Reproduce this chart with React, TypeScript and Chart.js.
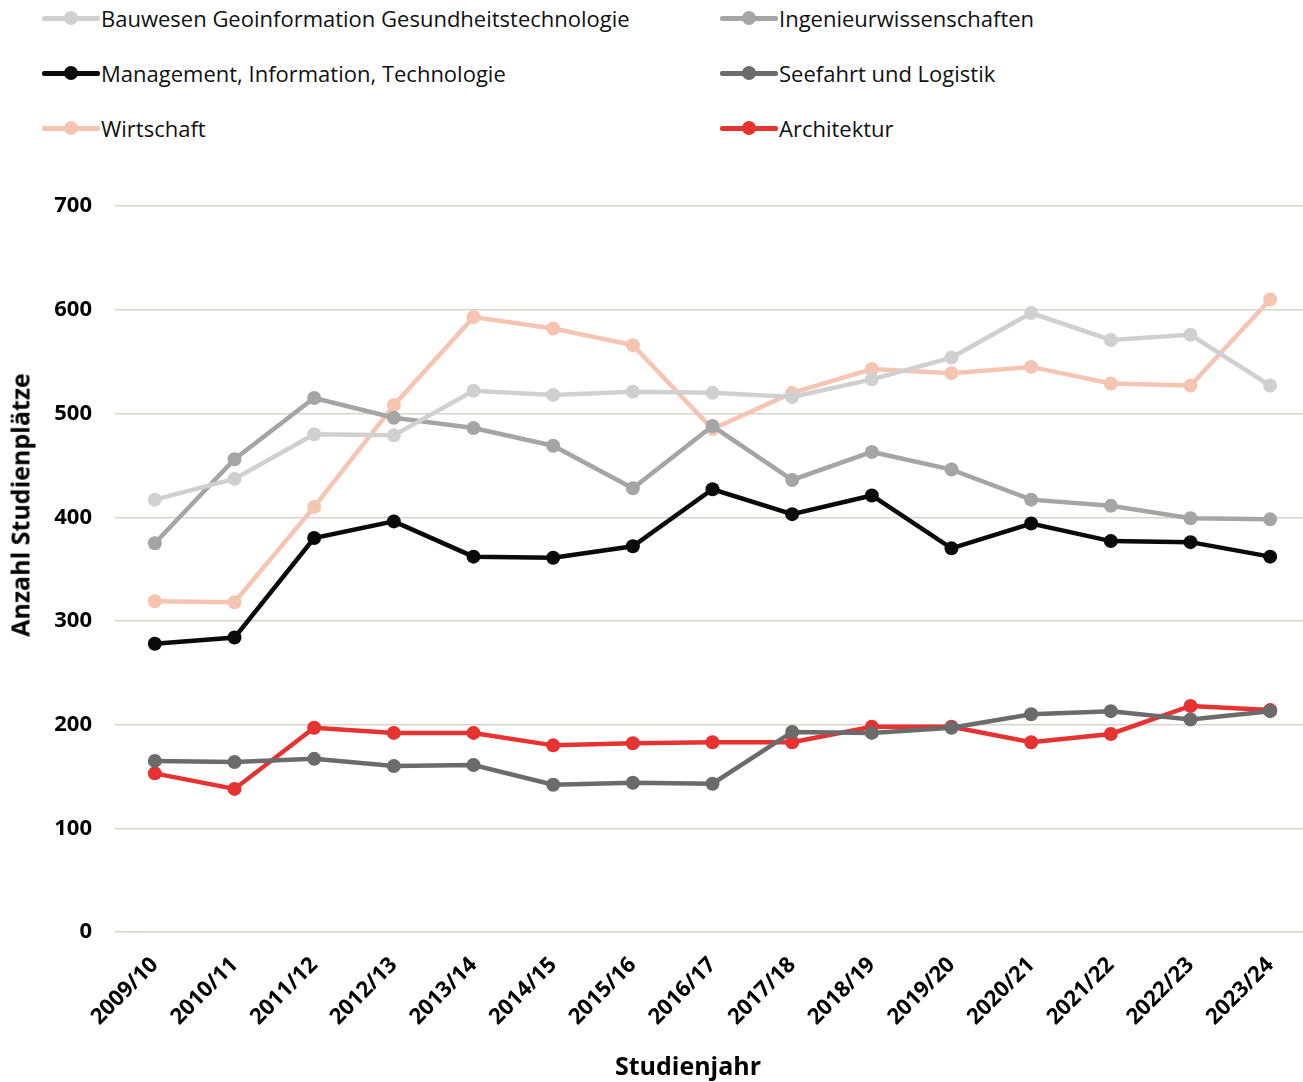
import React, { useEffect, useRef } from "react";
import { Chart, registerables } from "chart.js";

Chart.register(...registerables);

const categories = ["2009/10","2010/11","2011/12","2012/13","2013/14","2014/15","2015/16","2016/17","2017/18","2018/19","2019/20","2020/21","2021/22","2022/23","2023/24"];
const bauwesen = [417, 437, 480, 479, 522, 518, 521, 520, 516, 533, 554, 597, 571, 576, 527];
const ingenieur = [375, 456, 515, 496, 486, 469, 428, 488, 436, 463, 446, 417, 411, 399, 398];
const management = [278, 284, 380, 396, 362, 361, 372, 427, 403, 421, 370, 394, 377, 376, 362];
const wirtschaft = [319, 318, 410, 508, 593, 582, 566, 485, 520, 543, 539, 545, 529, 527, 610];
const seefahrt = [165, 164, 167, 160, 161, 142, 144, 143, 193, 192, 197, 210, 213, 205, 213];
const architektur = [153, 138, 197, 192, 192, 180, 182, 183, 183, 198, 198, 183, 191, 218, 214];
const yTicks = [0, 100, 200, 300, 400, 500, 600, 700];
const xTitle = "Studienjahr";
const yTitle = "Anzahl Studienplätze";

const FONT = "'Open Sans', 'Noto Sans', sans-serif";

const series = [
  { label: "Bauwesen Geoinformation Gesundheitstechnologie", data: bauwesen, color: "#d0d0d0" },
  { label: "Ingenieurwissenschaften", data: ingenieur, color: "#a5a5a5" },
  { label: "Management, Information, Technologie", data: management, color: "#0a0a0a" },
  { label: "Seefahrt und Logistik", data: seefahrt, color: "#6b6b6b" },
  { label: "Wirtschaft", data: wirtschaft, color: "#f5c5b2" },
  { label: "Architektur", data: architektur, color: "#e63331" },
];

const legendLayout = [
  { idx: 0, left: 42, top: 18 },
  { idx: 1, left: 720, top: 18 },
  { idx: 2, left: 42, top: 73 },
  { idx: 3, left: 720, top: 73 },
  { idx: 4, left: 42, top: 128 },
  { idx: 5, left: 720, top: 128 },
];

export default function App() {
  const ref = useRef<HTMLCanvasElement>(null);
  useEffect(() => {
    if (!ref.current) return;
    const chart = new Chart(ref.current, {
      type: "line",
      data: {
        labels: categories,
        datasets: series.map((s) => ({
          label: s.label,
          data: s.data,
          borderColor: s.color,
          backgroundColor: s.color,
          pointBackgroundColor: s.color,
          pointBorderColor: s.color,
          borderWidth: 4.5,
          pointRadius: 7,
          pointBorderWidth: 0,
          tension: 0,
        })),
      },
      options: {
        responsive: false,
        animation: false,
        layout: { padding: { top: 33, right: 0, bottom: 0, left: 0 } },
        plugins: { legend: { display: false }, tooltip: { enabled: false } },
        scales: {
          x: {
            offset: true,
            grid: { display: false, drawTicks: false },
            border: { display: false },
            ticks: {
              minRotation: 45,
              maxRotation: 45,
              color: "#000",
              padding: 20,
              font: { family: FONT, size: 22, weight: "bold" },
            },
            afterFit: (s: any) => { s.height = 150; },
          },
          y: {
            min: 0,
            max: 700,
            afterBuildTicks: (s: any) => { s.ticks = yTicks.map((v) => ({ value: v })); },
            grid: { color: "#d9d3d0", lineWidth: 1.5, drawTicks: false },
            border: { display: false },
            ticks: {
              color: "#000",
              padding: 23,
              font: { family: FONT, size: 22, weight: "bold" },
            },
            afterFit: (s: any) => { s.width = 115; },
          },
        },
      },
    });
    return () => chart.destroy();
  }, []);

  return (
    <div style={{ position: "fixed", left: 0, top: 0, width: 1303, height: 1082, overflow: "hidden", background: "#fff", fontFamily: FONT }}>
      {legendLayout.map(({ idx, left, top }) => {
        const s = series[idx];
        return (
          <div key={idx} style={{ position: "absolute", left, top: top - 15, height: 30, display: "flex", alignItems: "center", whiteSpace: "nowrap" }}>
            <div style={{ position: "relative", width: 58, height: 30 }}>
              <div style={{ position: "absolute", left: 0, top: 12.5, width: 58, height: 5, background: s.color, borderRadius: 2 }} />
              <div style={{ position: "absolute", left: 22, top: 8, width: 14, height: 14, background: s.color, borderRadius: 7 }} />
            </div>
            <span style={{ fontSize: 22, color: "#111", marginLeft: 1 }}>{s.label}</span>
          </div>
        );
      })}
      <canvas ref={ref} width={1317} height={912} style={{ position: "absolute", left: 0, top: 170, width: 1317, height: 912 }} />
      <div style={{ position: "absolute", left: 20, top: 505, width: 0, height: 0 }}>
        <div style={{ position: "absolute", left: 0, top: 0, transform: "translate(-50%, -50%) rotate(-90deg)", whiteSpace: "nowrap", fontSize: 25, fontWeight: "bold", color: "#000", lineHeight: 1 }}>{yTitle}</div>
      </div>
      <div style={{ position: "absolute", left: 688, top: 1065, width: 0, height: 0 }}>
        <div style={{ position: "absolute", left: 0, top: 0, transform: "translate(-50%, -50%)", whiteSpace: "nowrap", fontSize: 25, fontWeight: "bold", color: "#000", lineHeight: 1 }}>{xTitle}</div>
      </div>
    </div>
  );
}
